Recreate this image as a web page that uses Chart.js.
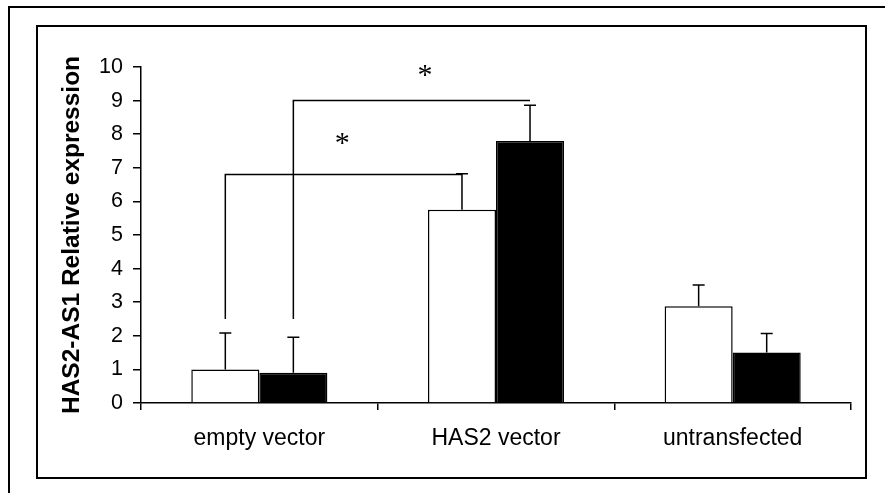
<!DOCTYPE html>
<html>
<head>
<meta charset="utf-8">
<script src="https://cdn.jsdelivr.net/npm/chart.js@4.4.1/dist/chart.umd.min.js"></script>
<style>
  body { margin: 0; background: #fff; }
  canvas { display: block; }
</style>
</head>
<body>
<canvas id="grafik" width="885" height="493"></canvas>
<script>
// data
const categories = ['empty vector', 'HAS2 vector', 'untransfected'];
const whiteValues = [1.0, 5.75, 2.88];
const blackValues = [0.9, 7.8, 1.5];
const whiteErr = [1.08, 1.07, 0.63];
const blackErr = [1.06, 1.06, 0.57];
const yMin = 0, yMax = 10, yStep = 1;

// significance brackets: from bar (cat, dataset) up to top, across to bar (cat, dataset)
const bracketFromCat = [0, 0];
const bracketToCat = [1, 1];
const bracketDataset = [0, 1];
const bracketBase = [2.5, 2.5];
const bracketTop = [6.8, 9.0];
const starX = [0.35, 0.70];
const starY = [7.88, 9.9];

const FONT = "'Liberation Sans', Arial, sans-serif";
const errors = [whiteErr, blackErr];

// error bars, brackets, stars, frames
const annotasi = {
    id: 'annotasi',
    afterDatasetsDraw(chart) {
        const ctx = chart.ctx;
        const y = chart.scales.y;
        const x = chart.scales.x;
        ctx.save();
        ctx.strokeStyle = '#000';
        ctx.lineWidth = 1.5;

        // error bars (upper only)
        chart.data.datasets.forEach((ds, i) => {
            const meta = chart.getDatasetMeta(i);
            meta.data.forEach((bar, j) => {
                const top = y.getPixelForValue(ds.data[j] + errors[i][j]);
                ctx.beginPath();
                ctx.moveTo(bar.x, bar.y);
                ctx.lineTo(bar.x, top);
                ctx.moveTo(bar.x - 6, top);
                ctx.lineTo(bar.x + 6, top);
                ctx.stroke();
            });
        });

        // brackets
        for (let k = 0; k < bracketFromCat.length; k++) {
            const meta = chart.getDatasetMeta(bracketDataset[k]);
            const x1 = meta.data[bracketFromCat[k]].x;
            const x2 = meta.data[bracketToCat[k]].x;
            const yb = y.getPixelForValue(bracketBase[k]);
            const yt = y.getPixelForValue(bracketTop[k]);
            ctx.beginPath();
            ctx.moveTo(x1, yb);
            ctx.lineTo(x1, yt);
            ctx.lineTo(x2, yt);
            ctx.stroke();
        }

        // stars
        ctx.fillStyle = '#000';
        ctx.font = "30px 'Liberation Serif', 'Times New Roman', serif";
        ctx.textAlign = 'center';
        ctx.textBaseline = 'alphabetic';
        const m = ctx.measureText('*');
        for (let k = 0; k < starX.length; k++) {
            const cx = x.getPixelForValue(starX[k]);
            const cy = y.getPixelForValue(starY[k]);
            ctx.fillText('*', cx, cy + (m.actualBoundingBoxAscent - m.actualBoundingBoxDescent) / 2);
        }
        ctx.restore();
    },
    afterDraw(chart) {
        const ctx = chart.ctx;
        ctx.save();
        ctx.strokeStyle = '#000';
        ctx.lineWidth = 2;
        // outer frame (cropped: only top and left visible)
        ctx.beginPath();
        ctx.moveTo(9, 493);
        ctx.lineTo(9, 7);
        ctx.lineTo(885, 7);
        ctx.stroke();
        // inner frame
        ctx.strokeRect(37, 26, 829, 452);
        ctx.restore();
    }
};

new Chart(document.getElementById('grafik').getContext('2d'), {
    type: 'bar',
    data: {
        labels: categories,
        datasets: [
            { data: whiteValues, backgroundColor: '#fff', borderColor: '#000', borderWidth: 1.5 },
            { data: blackValues, backgroundColor: '#000', borderColor: '#000', borderWidth: 1.5 }
        ]
    },
    options: {
        responsive: false,
        animation: false,
        events: [],
        categoryPercentage: 0.575,
        barPercentage: 1,
        layout: { padding: { top: 67, right: 34, bottom: 0, left: 0 } },
        plugins: { legend: { display: false }, tooltip: { enabled: false } },
        scales: {
            x: {
                grid: { offset: true, drawOnChartArea: false, tickLength: 7, color: '#000', lineWidth: 1.5 },
                border: { color: '#000', width: 1.5 },
                ticks: { color: '#000', font: { family: FONT, size: 23 }, padding: 15, maxRotation: 0 },
                afterFit: (s) => { s.height = 90; }
            },
            y: {
                min: yMin,
                max: yMax,
                grid: { drawOnChartArea: false, tickLength: 8, color: '#000', lineWidth: 1.5 },
                border: { color: '#000', width: 1.5 },
                ticks: { stepSize: yStep, color: '#000', font: { family: FONT, size: 21.5 }, padding: 10 },
                title: {
                    display: true,
                    text: 'HAS2-AS1 Relative expression',
                    color: '#000',
                    font: { family: FONT, size: 24.5, weight: 'bold' },
                    padding: { top: 58, bottom: 0 }
                },
                afterFit: (s) => { s.width = 141; }
            }
        }
    },
    plugins: [annotasi]
});
</script>
</body>
</html>
